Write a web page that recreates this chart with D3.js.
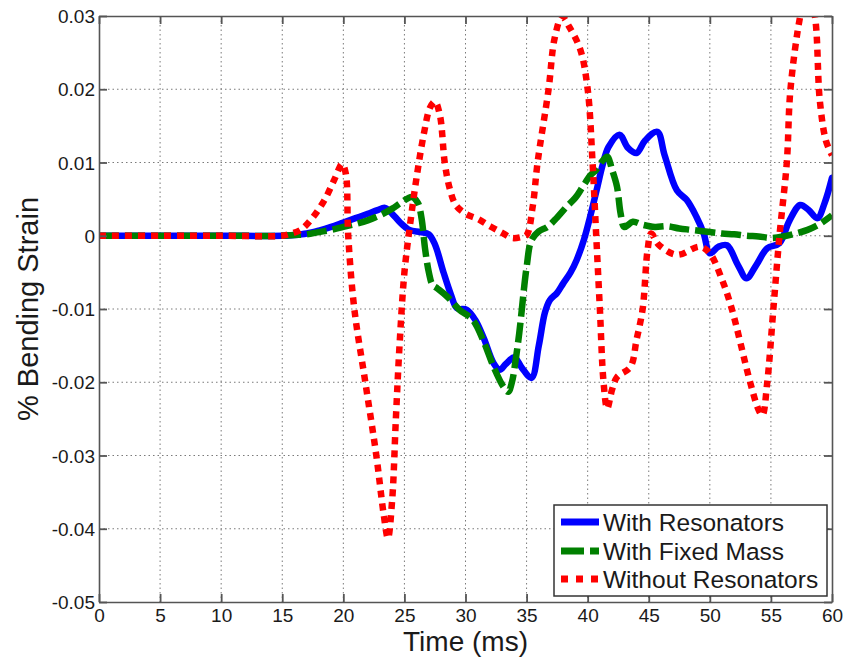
<!DOCTYPE html>
<html>
<head>
<meta charset="utf-8">
<script src="https://cdn.jsdelivr.net/npm/d3@7"></script>
<style>
  html, body { margin: 0; padding: 0; background: #fff; }
  svg { display: block; font-family: "Liberation Sans", Arial, Helvetica, sans-serif; }
</style>
</head>
<body>
<svg id="chart" width="851" height="663"></svg>
<script>
// Bending strain (%) versus time (ms) for three beam configurations.
const xTicks = [0, 5, 10, 15, 20, 25, 30, 35, 40, 45, 50, 55, 60];
const xTickLabels = ["0", "5", "10", "15", "20", "25", "30", "35", "40", "45", "50", "55", "60"];
const yTicks = [-0.05, -0.04, -0.03, -0.02, -0.01, 0, 0.01, 0.02, 0.03];
const yTickLabels = ["-0.05", "-0.04", "-0.03", "-0.02", "-0.01", "0", "0.01", "0.02", "0.03"];

const seriesNames = ["With Resonators", "With Fixed Mass", "Without Resonators"];

// With Resonators
const timeResonators = [0, 5, 10, 15, 16, 17, 18, 19, 20, 21, 22, 22.8, 23.4, 24, 24.6, 25.4, 26.3, 27.0, 27.5, 28.2, 28.8, 29.3, 30.1, 30.8, 31.5, 32.3, 32.8, 33.3, 34.0, 34.6, 35.4, 36.0, 36.5, 36.9, 37.5, 38.0, 38.6, 39.1, 39.7, 40.2, 40.8, 41.2, 41.7, 42.6, 43.3, 44.0, 44.7, 45.7, 46.3, 47.3, 48.1, 48.9, 49.5, 50.0, 50.7, 51.4, 52.3, 53.0, 53.8, 54.7, 55.7, 56.5, 57.4, 58.1, 58.8, 59.4, 60];
const strainResonators = [0, 0, 0, 0, 0.0001, 0.0003, 0.0007, 0.0012, 0.0018, 0.0024, 0.003, 0.0035, 0.0038, 0.003, 0.0019, 0.0008, 0.0005, 0.0002, -0.0012, -0.005, -0.008, -0.0099, -0.0101, -0.0115, -0.014, -0.0174, -0.0183, -0.0175, -0.0166, -0.018, -0.0194, -0.015, -0.0105, -0.0088, -0.0078, -0.0065, -0.005, -0.0033, -0.0005, 0.0026, 0.0067, 0.0095, 0.0121, 0.0138, 0.012, 0.0113, 0.013, 0.0142, 0.011, 0.0062, 0.0049, 0.0026, 0.0003, -0.0024, -0.0015, -0.0013, -0.004, -0.0058, -0.004, -0.0017, -0.001, 0.002, 0.0042, 0.0035, 0.0024, 0.0045, 0.0079];

// With Fixed Mass
const timeFixedMass = [0, 5, 10, 15, 16, 17, 18, 19, 20, 21, 22, 23, 24, 24.8, 25.6, 26.1, 26.4, 26.7, 27.0, 27.3, 27.7, 28.5, 29.5, 30.6, 31.5, 32.3, 33.1, 33.5, 33.8, 34.1, 34.4, 35.0, 35.4, 36.0, 36.7, 37.5, 38.3, 39.0, 39.6, 40.2, 40.7, 41.2, 41.6, 42.0, 42.4, 42.7, 43.0, 43.7, 44.5, 45.5, 46.5, 47.5, 48.5, 50, 51, 52, 53, 54, 55, 56, 57, 58, 59, 60];
const strainFixedMass = [0, 0, 0, 0, 0.0001, 0.0002, 0.0005, 0.0008, 0.0012, 0.0016, 0.0021, 0.0028, 0.0037, 0.0046, 0.0053, 0.0045, 0.0024, -0.0019, -0.005, -0.0067, -0.0072, -0.0083, -0.0101, -0.0115, -0.0145, -0.0179, -0.0206, -0.0213, -0.02, -0.017, -0.0133, -0.0043, -0.0006, 0.0006, 0.0012, 0.0025, 0.004, 0.0052, 0.0067, 0.0082, 0.009, 0.0102, 0.0108, 0.009, 0.0067, 0.003, 0.0012, 0.0019, 0.0015, 0.0012, 0.0013, 0.001, 0.0008, 0.0005, 0.0003, 0.0002, 0.0, -0.0001, -0.0003, -0.0001, 0.0003, 0.0008, 0.0016, 0.0028];

// Without Resonators
const timeNoResonators = [0, 5, 10, 15, 15.5, 16.5, 17.5, 18.5, 19.3, 19.9, 20.2, 20.4, 20.9, 21.8, 22.7, 23.3, 23.65, 24.0, 24.3, 24.6, 25.0, 25.5, 26.0, 26.6, 27.1, 27.5, 27.9, 28.3, 28.7, 29.2, 30, 31, 32, 33, 33.8, 34.5, 35.0, 35.5, 35.9, 36.8, 37.3, 37.9, 38.5, 39.4, 40.0, 40.4, 40.7, 41.0, 41.3, 41.6, 42.0, 42.4, 43.5, 44.0, 44.5, 44.9, 45.2, 45.8, 47.3, 49.2, 50, 51, 51.8, 53.3, 54.0, 54.3, 54.7, 55.2, 55.7, 56.3, 56.6, 57.4, 58.0, 58.6, 59.0, 59.5, 60];
const strainNoResonators = [0, 0, 0, 0, 0.0002, 0.0008, 0.0025, 0.005, 0.0078, 0.0098, 0.0085, 0.0, -0.010, -0.020, -0.030, -0.038, -0.0413, -0.036, -0.025, -0.015, -0.005, 0.002, 0.008, 0.014, 0.0175, 0.0183, 0.0165, 0.010, 0.0065, 0.0042, 0.003, 0.0023, 0.0013, 0.0004, -0.0003, -0.0002, 0.0001, 0.004, 0.010, 0.020, 0.027, 0.0299, 0.0285, 0.0254, 0.020, 0.010, 0.0, -0.010, -0.020, -0.0236, -0.021, -0.0193, -0.0179, -0.0142, -0.010, -0.002, 0.0003, -0.0012, -0.0026, -0.0015, -0.0024, -0.006, -0.010, -0.020, -0.0238, -0.0245, -0.020, -0.010, 0.0, 0.010, 0.020, 0.030, 0.034, 0.030, 0.0185, 0.013, 0.011];

const svg = d3.select("#chart");
const margin = { left: 99, top: 16, right: 851 - 832, bottom: 663 - 602 };
const W = 851 - margin.left - margin.right;
const H = 663 - margin.top - margin.bottom;

const x = d3.scaleLinear().domain([0, 60]).range([margin.left, margin.left + W]);
const y = d3.scaleLinear().domain([-0.05, 0.03]).range([margin.top + H, margin.top]);

const textColor = "#1a1a1a";
const axisColor = "#555";

// Dotted grid
const grid = svg.append("g").attr("stroke", "#7a7a7a").attr("stroke-width", 1).attr("stroke-dasharray", "1.5,3");
grid.selectAll("line.gx").data(xTicks.slice(1, -1)).join("line")
  .attr("x1", d => x(d)).attr("x2", d => x(d))
  .attr("y1", y(0.03)).attr("y2", y(-0.05));
grid.selectAll("line.gy").data(yTicks.slice(1, -1)).join("line")
  .attr("x1", x(0)).attr("x2", x(60))
  .attr("y1", d => y(d)).attr("y2", d => y(d));

// Series lines
svg.append("clipPath").attr("id", "plotClip").append("rect")
  .attr("x", margin.left).attr("y", margin.top).attr("width", W).attr("height", H);

const line = d3.line().x(d => x(d[0])).y(d => y(d[1])).curve(d3.curveCatmullRom.alpha(0.5));
const series = [
  { name: seriesNames[0], t: timeResonators, v: strainResonators, color: "#0000ff", dash: null, lineCap: "round" },
  { name: seriesNames[1], t: timeFixedMass, v: strainFixedMass, color: "#008000", dash: "20,6", lineCap: "butt" },
  { name: seriesNames[2], t: timeNoResonators, v: strainNoResonators, color: "#ff0000", dash: "7,6", lineCap: "butt" }
];

const plot = svg.append("g").attr("clip-path", "url(#plotClip)");
series.forEach(s => {
  plot.append("path")
    .datum(s.t.map((t, i) => [t, s.v[i]]))
    .attr("d", line)
    .attr("fill", "none")
    .attr("stroke", s.color)
    .attr("stroke-width", 6.5)
    .attr("stroke-linejoin", "round")
    .attr("stroke-linecap", s.lineCap)
    .attr("stroke-dasharray", s.dash);
});

// Axes box with inward ticks on all four sides
const tickLen = 8;
const axes = svg.append("g");
const bottomAxis = d3.axisBottom(x).tickValues(xTicks).tickSizeInner(-tickLen).tickSizeOuter(0).tickFormat((d, i) => xTickLabels[i]);
const topAxis = d3.axisTop(x).tickValues(xTicks).tickSizeInner(-tickLen).tickSizeOuter(0).tickFormat("");
const leftAxis = d3.axisLeft(y).tickValues(yTicks).tickSizeInner(-tickLen).tickSizeOuter(0).tickFormat((d, i) => yTickLabels[i]);
const rightAxis = d3.axisRight(y).tickValues(yTicks).tickSizeInner(-tickLen).tickSizeOuter(0).tickFormat("");

function styleAxis(g) {
  g.select(".domain").attr("stroke", axisColor).attr("stroke-width", 1.6);
  g.selectAll(".tick line").attr("stroke", axisColor).attr("stroke-width", 1.8);
  g.selectAll(".tick text").attr("fill", textColor).attr("font-size", 19)
    .attr("font-family", "'Liberation Sans', Arial, Helvetica, sans-serif");
}

axes.append("g").attr("transform", `translate(0,${margin.top + H})`).call(bottomAxis).call(styleAxis)
  .selectAll(".tick text").attr("y", 5).attr("dy", "0.78em");
axes.append("g").attr("transform", `translate(0,${margin.top})`).call(topAxis).call(styleAxis);
axes.append("g").attr("transform", `translate(${margin.left},0)`).call(leftAxis).call(styleAxis)
  .selectAll(".tick text").attr("x", -4).attr("dy", "0.35em");
axes.append("g").attr("transform", `translate(${margin.left + W},0)`).call(rightAxis).call(styleAxis);

// Axis titles
svg.append("text")
  .attr("x", margin.left + W / 2).attr("y", 651)
  .attr("text-anchor", "middle").attr("font-size", 28).attr("fill", textColor)
  .text("Time (ms)");
svg.append("text")
  .attr("transform", `translate(38,${margin.top + H / 2}) rotate(-90)`)
  .attr("text-anchor", "middle").attr("font-size", 29).attr("fill", textColor)
  .text("% Bending Strain");

// Legend
const legend = svg.append("g");
legend.append("rect")
  .attr("x", 554).attr("y", 505).attr("width", 273).attr("height", 91)
  .attr("fill", "#fff").attr("stroke", "#333").attr("stroke-width", 1.5);
const legendRowY = [522, 551, 579];
const legendDash = [null, "23,6", "7,8"];
series.forEach((s, i) => {
  legend.append("line")
    .attr("x1", 561).attr("x2", 599).attr("y1", legendRowY[i]).attr("y2", legendRowY[i])
    .attr("stroke", s.color).attr("stroke-width", 7)
    .attr("stroke-dasharray", legendDash[i]);
  legend.append("text")
    .attr("x", 603).attr("y", legendRowY[i]).attr("dy", "0.35em")
    .attr("font-size", 24.5).attr("fill", textColor)
    .text(s.name);
});
</script>
</body>
</html>
